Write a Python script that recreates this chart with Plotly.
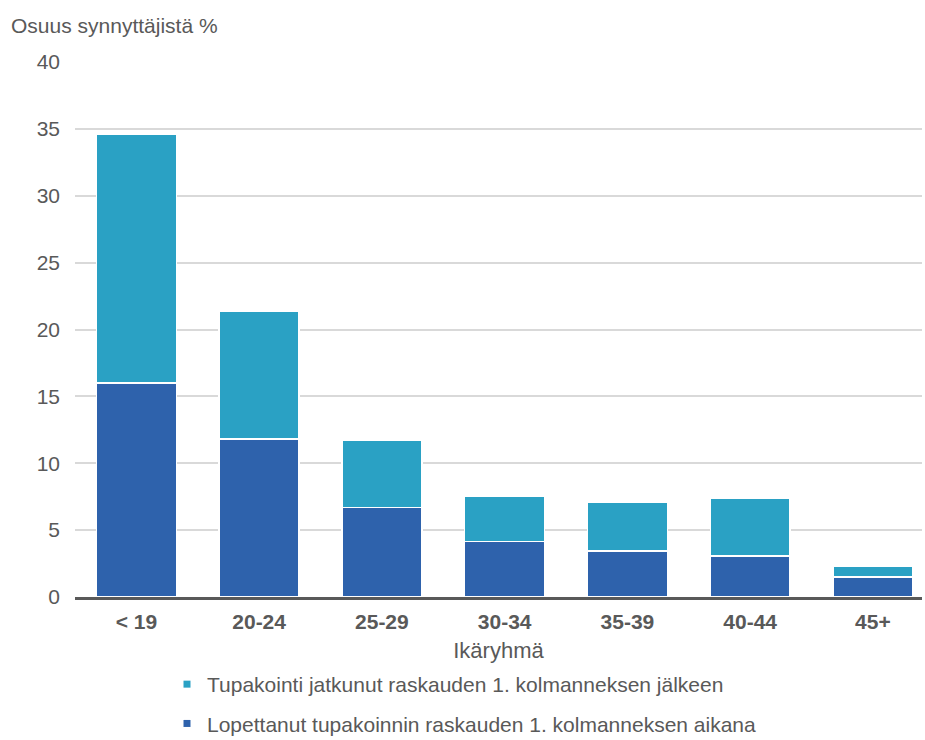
import plotly.graph_objects as go

categories = ["< 19", "20-24", "25-29", "30-34", "35-39", "40-44", "45+"]
stopped = [16.0, 11.8, 6.7, 4.15, 3.45, 3.05, 1.5]
continued_total = [34.6, 21.35, 11.75, 7.55, 7.05, 7.35, 2.27]
continued = [round(t - s, 2) for t, s in zip(continued_total, stopped)]

name_cont = "Tupakointi jatkunut raskauden 1. kolmanneksen jälkeen"
name_stop = "Lopettanut tupakoinnin raskauden 1. kolmanneksen aikana"

DARK = "#2E62AC"
LIGHT = "#2AA1C4"
TXT = "#595959"
FONT = "Liberation Sans, Arial, sans-serif"

fig = go.Figure()
fig.add_trace(go.Bar(
    x=categories, y=stopped, name=name_stop, width=0.65,
    marker=dict(color=DARK, line=dict(color="white", width=1.5)),
    showlegend=False,
))
fig.add_trace(go.Bar(
    x=categories, y=continued, name=name_cont, width=0.65,
    marker=dict(color=LIGHT, line=dict(color="white", width=1.5)),
    showlegend=False,
))
# legend entries (small square keys)
fig.add_trace(go.Scatter(
    x=[None], y=[None], mode="markers", name=name_cont,
    marker=dict(symbol="square", size=7, color=LIGHT),
    legendgroup="a", legendrank=1,
))
fig.add_trace(go.Scatter(
    x=[None], y=[None], mode="markers", name=name_stop,
    marker=dict(symbol="square", size=7, color=DARK),
    legendgroup="b", legendrank=2,
))

fig.update_layout(
    barmode="stack",
    width=925, height=740,
    margin=dict(l=75, r=3, t=62, b=143, autoexpand=False),
    paper_bgcolor="white", plot_bgcolor="white",
    font=dict(family=FONT, size=21, color=TXT),
    xaxis=dict(
        range=[-0.5, 6.4],
        showgrid=False, automargin=False,
        showline=True, linecolor=TXT, linewidth=3,
        tickfont=dict(family=FONT, size=21, color=TXT, weight="bold"),
        ticks="", ticklabelstandoff=4,
        title=dict(text="Ikäryhmä", font=dict(size=22, color=TXT), standoff=11),
    ),
    yaxis=dict(
        range=[0, 40], dtick=5, automargin=False,
        showgrid=True, gridcolor="#D9D9D9", gridwidth=2,
        zeroline=False,
        tickfont=dict(family=FONT, size=21, color=TXT),
        ticks="", ticklabelstandoff=14,
    ),
    legend=dict(
        orientation="v",
        xref="container", x=167 / 925, xanchor="left",
        yref="container", y=1 - 664 / 740, yanchor="top",
        traceorder="grouped", tracegroupgap=9,
        font=dict(family=FONT, size=21, color=TXT),
        itemwidth=30,
    ),
    annotations=[dict(
        text="Osuus synnyttäjistä %",
        xref="paper", yref="paper", x=0, y=1,
        xanchor="left", yanchor="middle",
        xshift=-66, yshift=37,
        showarrow=False,
        font=dict(family=FONT, size=21, color=TXT),
    )],
)

fig.write_html("out.html")
